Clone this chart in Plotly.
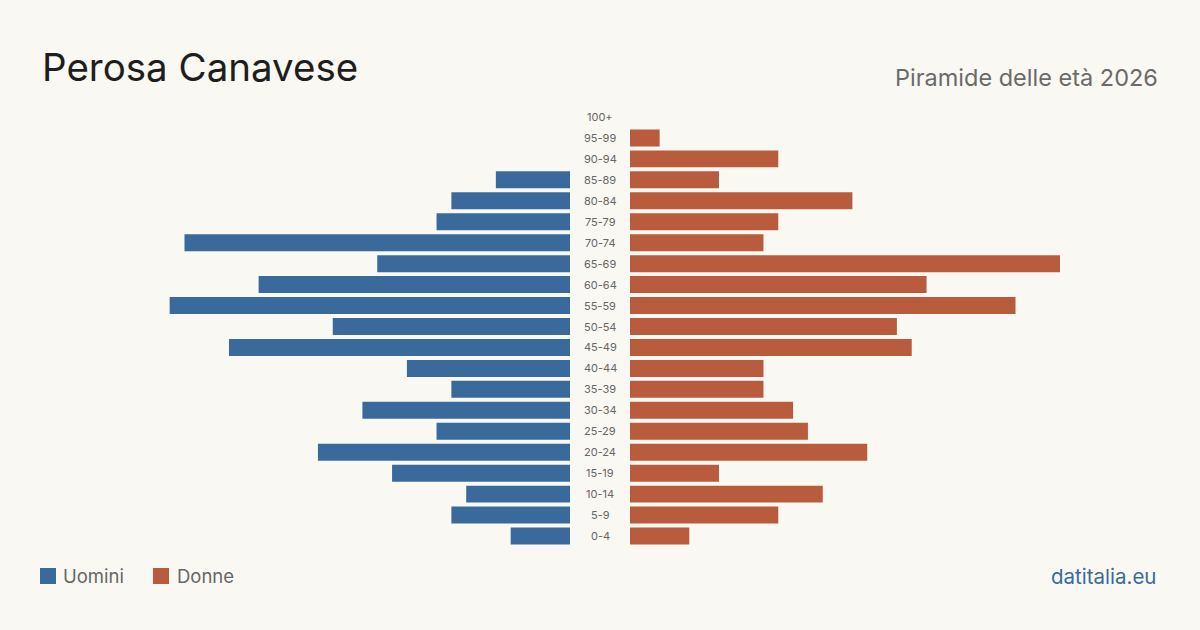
import plotly.graph_objects as go

age_groups = ["0-4", "5-9", "10-14", "15-19", "20-24", "25-29", "30-34", "35-39", "40-44",
              "45-49", "50-54", "55-59", "60-64", "65-69", "70-74", "75-79", "80-84",
              "85-89", "90-94", "95-99", "100+"]
males = [4, 8, 7, 12, 17, 9, 14, 8, 11, 23, 16, 27, 21, 13, 26, 9, 8, 5, 0, 0, 0]
females = [4, 10, 13, 6, 16, 12, 11, 9, 9, 19, 18, 26, 20, 29, 9, 10, 15, 6, 10, 2, 0]

MALE_COLOR = "#3a6a9c"
FEMALE_COLOR = "#b95c3d"
BG = "#faf8f3"
FONT = "Inter, Roboto, sans-serif"
XMAX = 29

fig = go.Figure()
fig.add_trace(go.Bar(y=age_groups, x=males, orientation="h", marker_color=MALE_COLOR,
                     marker_line_width=0,
                     xaxis="x", yaxis="y", name="Uomini", showlegend=False,
                     hoverinfo="x+y"))
fig.add_trace(go.Bar(y=age_groups, x=females, orientation="h", marker_color=FEMALE_COLOR,
                     marker_line_width=0,
                     xaxis="x2", yaxis="y", name="Donne", showlegend=False,
                     hoverinfo="x+y"))

for ag in age_groups:
    fig.add_annotation(x=600 / 1200, xref="paper", y=ag, yref="y", text=ag,
                       showarrow=False, font=dict(family=FONT, size=11, color="#666666"),
                       xanchor="center", yanchor="middle")

H = 630
fig.update_layout(
    width=1200, height=630,
    paper_bgcolor=BG, plot_bgcolor=BG,
    margin=dict(l=0, r=0, t=0, b=0),
    bargap=0.19,
    xaxis=dict(domain=[140 / 1200, 570 / 1200], range=[XMAX, 0], visible=False, fixedrange=True),
    xaxis2=dict(domain=[630 / 1200, 1060 / 1200], range=[0, XMAX], visible=False, fixedrange=True),
    yaxis=dict(domain=[1 - 546.5 / H, 1 - 106.5 / H], visible=False,
               categoryorder="array", categoryarray=age_groups, fixedrange=True),
    font=dict(family=FONT),
)

fig.add_annotation(x=40 / 1200, y=1 - 67 / H, xref="paper", yref="paper", text="Perosa Canavese",
                   showarrow=False, xanchor="left", yanchor="middle",
                   font=dict(family=FONT, size=38.5, color="#1e1e1e"))
fig.add_annotation(x=1160 / 1200, y=1 - 77 / H, xref="paper", yref="paper", text="Piramide delle età 2026",
                   showarrow=False, xanchor="right", yanchor="middle",
                   font=dict(family=FONT, size=23.5, color="#6a6a6a"))

# Legend
fig.add_shape(type="rect", xref="paper", yref="paper",
              x0=40 / 1200, x1=56 / 1200, y0=1 - 584 / H, y1=1 - 568 / H,
              fillcolor=MALE_COLOR, line_width=0)
fig.add_annotation(x=61 / 1200, y=1 - 576 / H, xref="paper", yref="paper", text="Uomini",
                   showarrow=False, xanchor="left", yanchor="middle",
                   font=dict(family=FONT, size=18.5, color="#666666"))
fig.add_shape(type="rect", xref="paper", yref="paper",
              x0=153 / 1200, x1=169 / 1200, y0=1 - 584 / H, y1=1 - 568 / H,
              fillcolor=FEMALE_COLOR, line_width=0)
fig.add_annotation(x=175 / 1200, y=1 - 576 / H, xref="paper", yref="paper", text="Donne",
                   showarrow=False, xanchor="left", yanchor="middle",
                   font=dict(family=FONT, size=18.5, color="#666666"))

fig.add_annotation(x=1158 / 1200, y=1 - 576 / H, xref="paper", yref="paper", text="datitalia.eu",
                   showarrow=False, xanchor="right", yanchor="middle",
                   font=dict(family=FONT, size=20.5, color=MALE_COLOR))

fig.write_html("out.html")
